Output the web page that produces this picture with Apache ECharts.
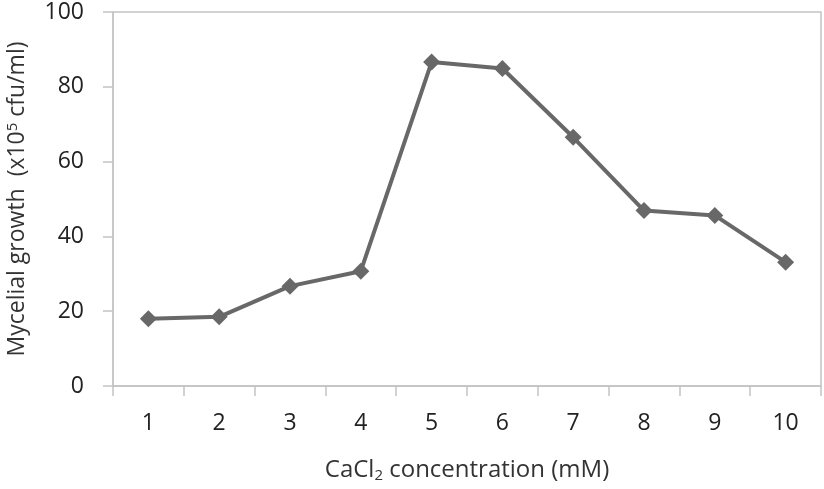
<!DOCTYPE html>
<html><head><meta charset="utf-8">
<script src="https://cdn.jsdelivr.net/npm/echarts@6/dist/echarts.min.js"></script>
<style>html,body{margin:0;padding:0;background:#fff}#c{width:824px;height:489px}</style>
</head><body><div id="c"></div>
<script>
const categories = ['1','2','3','4','5','6','7','8','9','10'];
const growth = [18.0, 18.5, 26.7, 30.7, 86.6, 84.9, 66.5, 46.9, 45.6, 33.1];
const yTicks = {min: 0, max: 100, interval: 20};

const chart = echarts.init(document.getElementById('c'));
const font = '"Open Sans", "Noto Sans", sans-serif';
chart.setOption({
  animation: false,
  grid: {left: 113, right: 3, top: 12, bottom: 103, outerBoundsMode: 'none', containLabel: false,
         show: true, borderColor: '#c4c4c4', borderWidth: 1.5, backgroundColor: 'transparent'},
  xAxis: {
    type: 'category', data: categories, boundaryGap: true,
    axisLine: {lineStyle: {color: '#c4c4c4', width: 1.5}},
    axisTick: {show: true, length: 10, inside: false, alignWithLabel: false, lineStyle: {color: '#c4c4c4', width: 1.5}},
    axisLabel: {margin: 26, fontSize: 23, color: '#222', fontFamily: font},
    name: '{n|CaCl}{s|2}{n| concentration (mM)}',
    nameLocation: 'middle', nameGap: 72,
    nameTextStyle: {rich: {n: {fontSize: 24, color: '#333', fontFamily: font}, s: {fontSize: 15, color: '#333', fontFamily: font, verticalAlign: 'bottom', padding: [10,0,0,0]}}}
  },
  yAxis: {
    type: 'value', min: yTicks.min, max: yTicks.max, interval: yTicks.interval,
    splitLine: {show: false},
    axisLine: {show: true, lineStyle: {color: '#c4c4c4', width: 1.5}},
    axisTick: {show: true, length: 10, lineStyle: {color: '#c4c4c4', width: 1.5}},
    axisLabel: {margin: 29, fontSize: 23, color: '#222', fontFamily: font},
    name: '{n|Mycelial growth  (x10}{s|5}{n| cfu/ml)}',
    nameLocation: 'middle', nameGap: 83, nameRotate: 90,
    nameTextStyle: {rich: {n: {fontSize: 23, color: '#333', fontFamily: font}, s: {fontSize: 15, color: '#333', fontFamily: font, verticalAlign: 'top', padding: [0,0,10,0]}}}
  },
  series: [{
    type: 'line', data: growth,
    symbol: 'diamond', symbolSize: 17,
    lineStyle: {color: '#686868', width: 4},
    itemStyle: {color: '#686868'}
  }]
});
</script></body></html>
